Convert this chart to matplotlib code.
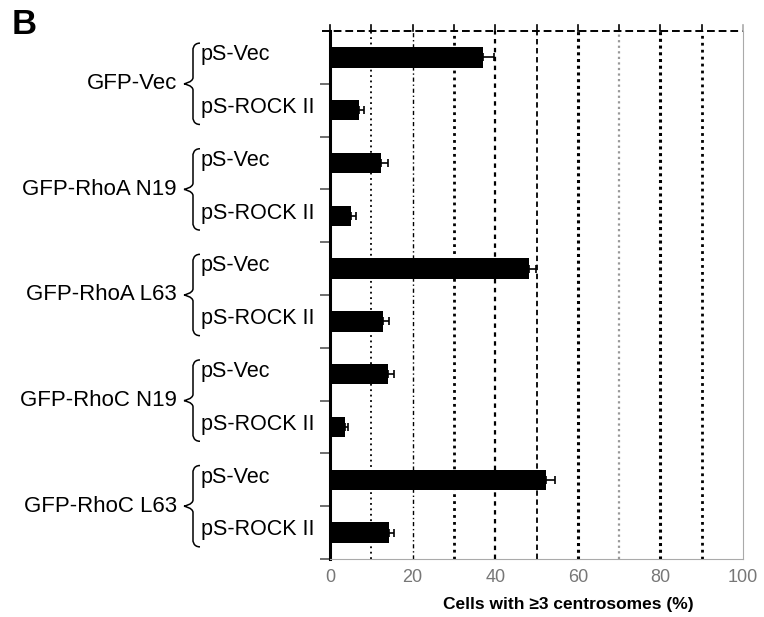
import matplotlib
matplotlib.use("Agg")
import matplotlib.pyplot as plt
import matplotlib.transforms as mtransforms
from matplotlib.path import Path
from matplotlib.patches import PathPatch

plt.rcParams["font.family"] = ["Liberation Sans", "DejaVu Sans"]

groups = ["GFP-Vec", "GFP-RhoA N19", "GFP-RhoA L63", "GFP-RhoC N19", "GFP-RhoC L63"]
subs = ["pS-Vec", "pS-ROCK II"]
values = [37.0, 7.1, 12.3, 5.1, 48.3, 12.9, 14.0, 3.6, 52.3, 14.3]
errors = [2.7, 1.2, 1.7, 1.2, 1.5, 1.4, 1.6, 0.8, 2.3, 1.2]
xticks = [0, 20, 40, 60, 80, 100]

W, H = 764, 617
fig = plt.figure(figsize=(W / 100, H / 100), dpi=100)
ax = fig.add_axes([330 / W, 1 - 559 / H, (743 - 330) / W, (559 - 31) / H])

pos = list(range(len(values)))
ax.barh(pos, values, height=0.39, color="black", zorder=3)
ax.errorbar(values, pos, xerr=[[0] * len(values), errors], fmt="none",
            ecolor="black", elinewidth=1.2, capsize=3, capthick=1.2, zorder=4)

ax.set_xlim(0, 100)
ax.set_ylim(len(values) - 0.5, -0.5)

# vertical grid lines, each drawn a little differently as in the original
grid_styles = [
    (1.3, (0, (1, 2)), "black"),
    (1.0, (0, (3, 2, 1, 2)), "black"),
    (2.0, (0, (1, 1.5)), "black"),
    (1.6, (0, (2, 2)), "black"),
    (1.3, (0, (3, 2)), "black"),
    (2.2, (0, (1, 1.2)), "black"),
    (1.6, (0, (1, 1.5)), "#999999"),
    (2.2, (0, (1, 1.2)), "black"),
    (2.0, (0, (1, 1.5)), "black"),
]
for i, (lw, ls, c) in enumerate(grid_styles):
    ax.axvline(10 * (i + 1), color=c, lw=lw, linestyle=ls, zorder=1)

ax.spines["top"].set_visible(False)
ax.axhline(-0.5, xmin=-0.02, color="black", lw=1.4, linestyle=(0, (4, 2)),
           clip_on=False, zorder=2)
for x in range(0, 101, 10):
    ax.plot([x, x], [-0.5, -0.62], color="black" if x < 100 else "#aaaaaa",
            lw=1.2, clip_on=False)

ax.spines["left"].set_linewidth(2.2)
ax.spines["left"].set_color("black")
ax.spines["right"].set_color("#aaaaaa")
ax.spines["bottom"].set_color("#aaaaaa")

ax.set_xticks(xticks)
ax.set_xticklabels([str(t) for t in xticks], fontsize=13, color="#777777")
ax.tick_params(axis="x", length=0, pad=7)
ax.set_yticks([p + 0.5 for p in pos])
ax.set_yticklabels([])
ax.tick_params(axis="y", length=7, color="#555555", width=1.2)

fig.text(568 / W, 1 - 605 / H, "Cells with \u22653 centrosomes (%)",
         ha="center", va="center", fontsize=12.5, fontweight="bold")
fig.text(12 / W, 1 - 24 / H, "B", ha="left", va="center", fontsize=25,
         fontweight="bold")

trans = mtransforms.blended_transform_factory(fig.transFigure, ax.transData)


def brace(y0, y1, xt=184, xb=193, xe=200):
    ym = (y0 + y1) / 2
    r = 0.12
    fx = lambda v: v / W
    verts = [
        (fx(xe), y0),
        (fx(xb), y0), (fx(xb), y0 + r), (fx(xb), y0 + r),
        (fx(xb), ym - r),
        (fx(xb), ym - 0.03), (fx(xt), ym), (fx(xt), ym),
        (fx(xt), ym), (fx(xb), ym + 0.03), (fx(xb), ym + r),
        (fx(xb), y1 - r),
        (fx(xb), y1 - r), (fx(xb), y1), (fx(xe), y1),
    ]
    codes = [Path.MOVETO, Path.CURVE4, Path.CURVE4, Path.CURVE4, Path.LINETO,
             Path.CURVE4, Path.CURVE4, Path.CURVE4,
             Path.CURVE4, Path.CURVE4, Path.CURVE4, Path.LINETO,
             Path.CURVE4, Path.CURVE4, Path.CURVE4]
    patch = PathPatch(Path(verts, codes), transform=trans, fill=False,
                      lw=1.1, color="black", clip_on=False)
    fig.add_artist(patch)


for g, name in enumerate(groups):
    top = 2 * g
    brace(top - 0.27, top + 1.27)
    fig.text(177 / W, top + 0.5, name, transform=trans, ha="right",
             va="center", fontsize=16)
    for k, s in enumerate(subs):
        fig.text(201 / W, top + k - 0.05, s, transform=trans, ha="left",
                 va="center", fontsize=15.5)

fig.savefig("out.png", dpi=100)
